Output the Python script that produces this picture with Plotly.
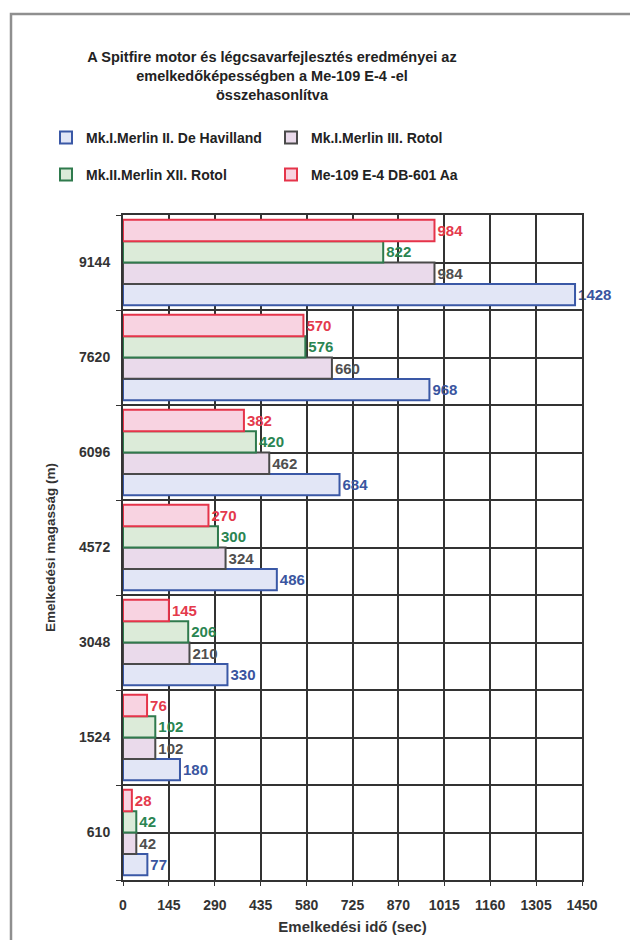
import plotly.graph_objects as go

# Altitude categories (m), bottom to top
altitudes = ["610", "1524", "3048", "4572", "6096", "7620", "9144"]

# Climb time (sec) to each altitude
merlin2_dh = [77, 180, 330, 486, 684, 968, 1428]
merlin3_rotol = [42, 102, 210, 324, 462, 660, 984]
merlin12_rotol = [42, 102, 206, 300, 420, 576, 822]
me109_e4 = [28, 76, 145, 270, 382, 570, 984]

series_names = [
    "Mk.I.Merlin II. De Havilland",
    "Mk.I.Merlin III. Rotol",
    "Mk.II.Merlin XII. Rotol",
    "Me-109 E-4 DB-601 Aa",
]
x_ticks = [0, 145, 290, 435, 580, 725, 870, 1015, 1160, 1305, 1450]

W, H = 630, 940
L, R, T, B = 123, 48, 215, 60
PW, PH = W - L - R, H - T - B


def px_x(px):
    return (px - L) / PW


def px_y(py):
    return 1 - (py - T) / PH


FONT = "Liberation Sans, Arial, sans-serif"

styles = [
    dict(line="#3a58a6", fill="#e2e6f6", text="#3a55a0", legend="legend"),
    dict(line="#4a4a4a", fill="#eadaeb", text="#4f4f4f", legend="legend"),
    dict(line="#2f7a4d", fill="#dcebd9", text="#2a8552", legend="legend2"),
    dict(line="#e5344a", fill="#f8d3e1", text="#e43a4c", legend="legend2"),
]

ypos = list(range(len(altitudes)))
fig = go.Figure()
for name, vals, st in zip(series_names,
                          [merlin2_dh, merlin3_rotol, merlin12_rotol, me109_e4],
                          styles):
    fig.add_trace(go.Bar(
        y=ypos, x=vals, orientation="h", name=name,
        marker=dict(color=st["fill"], line=dict(color=st["line"], width=2)),
        text=vals, texttemplate="%{x}", textposition="outside",
        constraintext="none", cliponaxis=False,
        textfont=dict(family=FONT, size=15, color=st["text"], weight="bold"),
        legend=st["legend"],
    ))

legend_common = dict(
    orientation="h", xanchor="left", yanchor="middle",
    font=dict(family=FONT, size=14, color="#222", weight="bold"),
    bgcolor="rgba(0,0,0,0)", entrywidth=180, itemwidth=30,
    traceorder="normal",
)

GRID = "#333333"
fig.update_layout(
    width=W, height=H,
    margin=dict(l=L, r=R, t=T, b=B),
    paper_bgcolor="white", plot_bgcolor="white",
    barmode="group", bargap=0.1, bargroupgap=0,
    title=dict(
        text="A Spitfire motor és légcsavarfejlesztés eredményei az<br>"
             "emelkedőképességben a Me-109 E-4 -el<br>összehasonlítva",
        x=272 / W, xanchor="center", xref="container",
        y=1 - 62 / H, yanchor="top", yref="container",
        font=dict(family=FONT, size=14.5, color="#222", weight="bold"),
    ),
    legend=dict(x=px_x(46), y=px_y(138), **legend_common),
    legend2=dict(x=px_x(46), y=px_y(175), **legend_common),
    xaxis=dict(
        range=[0, 1450], tickmode="array", tickvals=x_ticks,
        showgrid=True, gridcolor=GRID, gridwidth=2,
        showline=True, linecolor=GRID, linewidth=2, mirror=True,
        ticks="outside", ticklen=4, tickcolor=GRID,
        tickfont=dict(family=FONT, size=14, color="#333", weight="bold"),
        ticklabelstandoff=7, zeroline=False, automargin=False,
        title=dict(text="Emelkedési idő (sec)", standoff=10,
                   font=dict(family=FONT, size=15, color="#333", weight="bold")),
    ),
    # Altitude axis: linear, one unit per category, grid every half unit
    yaxis=dict(
        range=[-0.5, len(altitudes) - 0.5],
        tickmode="array", tickvals=ypos, ticktext=altitudes, ticks="",
        showgrid=True, gridcolor=GRID, gridwidth=2,
        showline=True, linecolor=GRID, linewidth=2, mirror=True,
        tickfont=dict(family=FONT, size=14, color="#333", weight="bold"),
        ticklabelstandoff=8, zeroline=False,
        minor=dict(tick0=-0.5, dtick=1, showgrid=True, gridcolor=GRID,
                   gridwidth=2, ticks="outside", ticklen=5, tickcolor=GRID),
        title=dict(text="Emelkedési magasság (m)", standoff=20,
                   font=dict(family=FONT, size=13.5, color="#333", weight="bold")),
    ),
    showlegend=True,
)

# Outer chart frame
fig.add_shape(type="rect", xref="paper", yref="paper",
              x0=px_x(11), x1=px_x(645), y0=px_y(960), y1=px_y(14),
              line=dict(color="#8f8f8f", width=2.5), layer="below")

fig.write_html("out.html")
